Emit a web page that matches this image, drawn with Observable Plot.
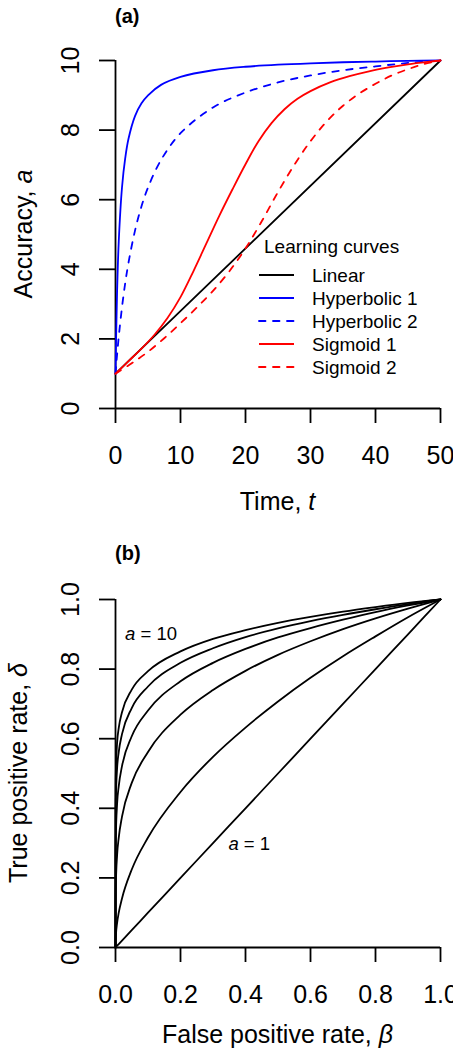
<!DOCTYPE html>
<html><head><meta charset="utf-8">
<script src="https://cdn.jsdelivr.net/npm/d3@7"></script>
<script src="https://cdn.jsdelivr.net/npm/@observablehq/plot@0.6"></script>
<style>
html,body{margin:0;padding:0;background:#fff;overflow:hidden;}
#wrap svg{display:block;}
</style></head><body><div id="wrap"></div>
<script>
// ---------- Panel (a): learning curves ----------
const tLinear = [0, 50];
const linear = [1, 10];

const tHyperbolic = [0, 0.1, 0.25, 0.5, 1, 1.5, 2, 3, 4, 5, 7, 10, 15, 20, 25, 30, 35, 40, 45, 50];
const hyperbolic1 = [1, 2.1, 3.4, 4.8, 6.35, 7.2, 7.75, 8.4, 8.77, 9.0, 9.3, 9.53, 9.72, 9.82, 9.88, 9.92, 9.95, 9.97, 9.99, 10];
const hyperbolic2 = [1, 1.23, 1.56, 2.06, 2.91, 3.61, 4.19, 5.11, 5.81, 6.35, 7.14, 7.91, 8.65, 9.08, 9.37, 9.57, 9.72, 9.83, 9.93, 10];

const tSigmoid1 = [0, 2, 4, 6, 8, 10, 12, 14, 16, 18, 20, 22, 24, 26, 28, 30, 33, 36, 39, 42, 45, 48, 50];
const sigmoid1 = [1, 1.36, 1.72, 2.12, 2.6, 3.2, 3.95, 4.75, 5.55, 6.3, 7.02, 7.68, 8.2, 8.6, 8.9, 9.12, 9.37, 9.55, 9.69, 9.8, 9.89, 9.96, 10];

const tSigmoid2 = [0, 2.5, 5, 7.5, 10, 12.5, 15, 17.5, 20, 22.5, 25, 27.5, 30, 32.5, 35, 37.5, 40, 42.5, 45, 47.5, 50];
const sigmoid2 = [1, 1.3, 1.63, 2.02, 2.45, 2.9, 3.38, 3.94, 4.6, 5.38, 6.22, 7.0, 7.68, 8.25, 8.7, 9.05, 9.33, 9.57, 9.75, 9.9, 10];

const legendLabels = ["Linear", "Hyperbolic 1", "Hyperbolic 2", "Sigmoid 1", "Sigmoid 2"];

const xTicksA = [0, 10, 20, 30, 40, 50];
const xTickLabelsA = ["0", "10", "20", "30", "40", "50"];
const yTicksA = [0, 2, 4, 6, 8, 10];
const yTickLabelsA = ["0", "2", "4", "6", "8", "10"];

// ---------- Panel (b): ROC curves ----------
const beta = [0, 0.0002, 0.001, 0.005, 0.01, 0.02, 0.05, 0.1, 0.2, 0.3, 0.4, 0.5, 0.6, 0.7, 0.8, 0.9, 1];
const rocA10 = [0, 0.427, 0.501, 0.589, 0.631, 0.676, 0.741, 0.794, 0.851, 0.887, 0.912, 0.933, 0.950, 0.965, 0.978, 0.990, 1];
const rocA8  = [0, 0.345, 0.422, 0.516, 0.562, 0.613, 0.688, 0.750, 0.818, 0.860, 0.892, 0.917, 0.938, 0.956, 0.972, 0.987, 1];
const rocA6  = [0, 0.242, 0.316, 0.414, 0.464, 0.521, 0.607, 0.681, 0.765, 0.818, 0.858, 0.891, 0.918, 0.942, 0.964, 0.983, 1];
const rocA4  = [0, 0.119, 0.178, 0.266, 0.316, 0.376, 0.473, 0.562, 0.669, 0.740, 0.795, 0.841, 0.880, 0.915, 0.946, 0.974, 1];
const rocA2  = [0, 0.014, 0.032, 0.071, 0.100, 0.141, 0.224, 0.316, 0.447, 0.548, 0.632, 0.707, 0.775, 0.837, 0.894, 0.949, 1];
const rocA1  = [0, 0.0002, 0.001, 0.005, 0.01, 0.02, 0.05, 0.1, 0.2, 0.3, 0.4, 0.5, 0.6, 0.7, 0.8, 0.9, 1];

const ticksB = [0, 0.2, 0.4, 0.6, 0.8, 1];
const tickLabelsB = ["0.0", "0.2", "0.4", "0.6", "0.8", "1.0"];

// ---------- helpers ----------
const FONT = "'Liberation Sans', Arial, Helvetica, sans-serif";
const LW = 1.8;
const DASH = "6.5,7.5";
const fmtMap = (vals, labels) => { const m = new Map(vals.map((v, i) => [v, labels[i]])); return d => m.get(d); };
const rows = (xs, ys) => xs.map((x, i) => ({x, y: ys[i]}));

const series = [
  {label: legendLabels[0], data: rows(tLinear, linear), color: "#000000", dash: null},
  {label: legendLabels[1], data: rows(tHyperbolic, hyperbolic1), color: "#0000FF", dash: null},
  {label: legendLabels[2], data: rows(tHyperbolic, hyperbolic2), color: "#0000FF", dash: DASH},
  {label: legendLabels[3], data: rows(tSigmoid1, sigmoid1), color: "#FF0000", dash: null},
  {label: legendLabels[4], data: rows(tSigmoid2, sigmoid2), color: "#FF0000", dash: DASH}
];

const panelA = Plot.plot({
  width: 453, height: 527,
  marginLeft: 115, marginRight: 13, marginTop: 60, marginBottom: 119,
  style: {fontFamily: FONT, background: "white", color: "black"},
  x: {domain: [0, 50]},
  y: {domain: [0, 10]},
  marks: [
    Plot.ruleX([0], {strokeWidth: LW}),
    Plot.ruleY([0], {strokeWidth: LW}),
    Plot.axisX({ticks: xTicksA, tickSize: 15, tickPadding: 23, tickFormat: fmtMap(xTicksA, xTickLabelsA), fontSize: 25, strokeWidth: LW, label: null}),
    Plot.axisY({ticks: yTicksA, tickSize: 16, tickPadding: 21, tickRotate: -90, tickFormat: fmtMap(yTicksA, yTickLabelsA), fontSize: 25, strokeWidth: LW, label: null}),
    ...series.map(s => Plot.line(s.data, {x: "x", y: "y", stroke: s.color, strokeWidth: LW, strokeDasharray: s.dash ?? undefined, curve: "catmull-rom"}))
  ]
});

const rocSeries = [rocA10, rocA8, rocA6, rocA4, rocA2, rocA1];
const panelB = Plot.plot({
  width: 453, height: 526,
  marginLeft: 115, marginRight: 13, marginTop: 72, marginBottom: 106,
  style: {fontFamily: FONT, background: "white", color: "black"},
  x: {domain: [0, 1]},
  y: {domain: [0, 1]},
  marks: [
    Plot.ruleX([0], {strokeWidth: LW}),
    Plot.ruleY([0], {strokeWidth: LW}),
    Plot.axisX({ticks: ticksB, tickSize: 15, tickPadding: 23, tickFormat: fmtMap(ticksB, tickLabelsB), fontSize: 25, strokeWidth: LW, label: null}),
    Plot.axisY({ticks: ticksB, tickSize: 16, tickPadding: 21, tickRotate: -90, tickFormat: fmtMap(ticksB, tickLabelsB), fontSize: 25, strokeWidth: LW, label: null}),
    ...rocSeries.map(r => Plot.line(rows(beta, r), {x: "x", y: "y", stroke: "black", strokeWidth: LW, curve: "monotone-x"}))
  ]
});

const wrap = document.getElementById("wrap");
wrap.appendChild(panelA);
wrap.appendChild(panelB);

// ---------- annotations (titles, axis labels, legend) ----------
function addText(svg, {x, y, parts, size, anchor = "start", rotate = 0, weight = "normal"}) {
  const t = d3.select(svg).append("text")
    .attr("transform", `translate(${x},${y})` + (rotate ? ` rotate(${rotate})` : ""))
    .attr("text-anchor", anchor)
    .attr("font-family", FONT)
    .attr("font-size", size)
    .attr("font-weight", weight)
    .attr("fill", "black");
  for (const p of parts) {
    const s = t.append("tspan").text(p.text);
    if (p.italic) s.attr("font-style", "italic");
  }
  return t;
}

const xA = panelA.scale("x"), yA = panelA.scale("y");
const midXA = (xA.range[0] + xA.range[1]) / 2, midYA = (yA.range[0] + yA.range[1]) / 2;
addText(panelA, {x: 115, y: 23, parts: [{text: "(a)"}], size: 20, weight: "bold"});
addText(panelA, {x: midXA, y: 510, parts: [{text: "Time, "}, {text: "t", italic: true}], size: 25, anchor: "middle"});
addText(panelA, {x: 32, y: midYA, parts: [{text: "Accuracy, "}, {text: "a", italic: true}], size: 25, anchor: "middle", rotate: -90});

// legend
const lg = d3.select(panelA).append("g");
addText(panelA, {x: 264, y: 252.5, parts: [{text: "Learning curves"}], size: 19});
series.forEach((s, i) => {
  const yc = 275 + i * 23;
  lg.append("line").attr("x1", 259).attr("x2", 294).attr("y1", yc).attr("y2", yc)
    .attr("stroke", s.color).attr("stroke-width", LW)
    .attr("stroke-dasharray", s.dash).attr("stroke-linecap", s.dash ? "round" : "butt");
  addText(panelA, {x: 312, y: yc + 7.3, parts: [{text: s.label}], size: 19});
});

const xB = panelB.scale("x"), yB = panelB.scale("y");
const midXB = (xB.range[0] + xB.range[1]) / 2, midYB = (yB.range[0] + yB.range[1]) / 2;
addText(panelB, {x: 115, y: 33, parts: [{text: "(b)"}], size: 20, weight: "bold"});
addText(panelB, {x: midXB, y: 516, parts: [{text: "False positive rate, "}, {text: "\u03B2", italic: true}], size: 25, anchor: "middle"});
addText(panelB, {x: 27, y: midYB, parts: [{text: "True positive rate, "}, {text: "\u03B4", italic: true}], size: 25, anchor: "middle", rotate: -90});
addText(panelB, {x: xB.apply(0.031), y: yB.apply(0.882), parts: [{text: "a", italic: true}, {text: " = 10"}], size: 18.5});
addText(panelB, {x: xB.apply(0.349), y: yB.apply(0.280), parts: [{text: "a", italic: true}, {text: " = 1"}], size: 18.5});
</script>
</body></html>
